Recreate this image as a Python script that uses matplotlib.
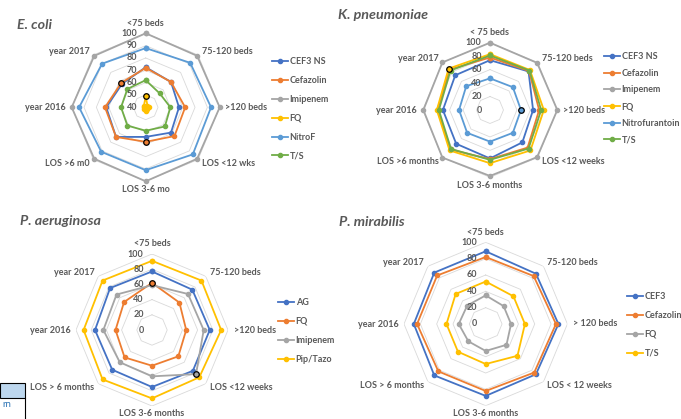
import matplotlib
matplotlib.use('Agg')
import matplotlib.pyplot as plt
import numpy as np
from matplotlib.patches import Rectangle

# Excel-ish palette and text colour
BLUE, ORANGE, GRAY, GOLD, LBLUE, GREEN = '#4472C4', '#ED7D31', '#A5A5A5', '#FFC000', '#5B9BD5', '#70AD47'
TXT = '#595959'
plt.rcParams['font.family'] = ['Lato', 'DejaVu Sans']

# ---- data ----
ecoli_cats = ['<75 beds', '75-120 beds', '>120 beds', 'LOS <12 wks', 'LOS 3-6 mo',
              'LOS >6 m0', 'year 2016', 'year 2017']
ecoli_names = ['CEF3 NS', 'Cefazolin', 'Imipenem', 'FQ', 'NitroF', 'T/S']
ecoli_cef3 = [72.5, 69, 67, 69, 64, 74, 72, 67]
ecoli_cefaz = [72, 69, 72, 73, 68, 74, 73, 68]
ecoli_imip = [100, 99, 100, 99, 100, 99, 100, 99]
ecoli_fq = [49, 42, 43, 42, 43, 42, 41, 42]
ecoli_nitrof = [88, 91, 93, 94, 91, 91, 94, 90]
ecoli_ts = [62, 56, 60, 62, 59, 61, 60, 61]

kpn_cats = ['< 75 beds', '75-120 beds', '>120 beds', 'LOS <12 weeks', 'LOS 3-6 months',
            'LOS >6 months', 'year 2016', 'year 2017']
kpn_names = ['CEF3 NS', 'Cefazolin', 'Imipenem', 'FQ', 'Nitrofurantoin', 'T/S']
kpn_cef3 = [74, 81, 64, 68, 72, 71, 70, 73]
kpn_cefaz = [78, 82, 73, 79, 73, 83, 78, 85]
kpn_imip = [100, 99, 100, 99, 98, 100, 99, 100]
kpn_fq = [83, 84, 80, 85, 79, 85, 79, 87]
kpn_nitro = [47, 48, 46, 48, 47, 48, 46, 50]
kpn_ts = [81, 83, 76, 81, 74, 82, 76, 83]

pae_cats = ['<75 beds', '75-120 beds', '>120 beds', 'LOS <12 weeks', 'LOS 3-6 months',
            'LOS > 6 months', 'year 2016', 'year 2017']
pae_names = ['AG', 'FQ', 'Imipenem', 'Pip/Tazo']
pae_ag = [77, 75, 76, 76, 75, 74, 75, 78]
pae_fq = [62, 51, 45, 49, 47, 51, 48, 52]
pae_imip = [59, 67, 68, 82, 61, 60, 64, 66]
pae_pip = [91, 92, 91, 88, 90, 92, 90, 92]

pmi_cats = ['<75 beds', '75-120 beds', '> 120 beds', 'LOS < 12 weeks', 'LOS 3-6 months',
            'LOS > 6 months', 'year 2016', 'year 2017']
pmi_names = ['CEF3', 'Cefazolin', 'FQ', 'T/S']
pmi_cef3 = [89, 87, 89, 87, 88, 89, 88, 89]
pmi_cefaz = [82, 83, 86, 84, 82, 82, 84, 84]
pmi_fq = [35, 31, 31, 36, 33, 30, 33, 32]
pmi_ts = [52, 48, 48, 55, 49, 48, 48, 52]

W, H = 681, 419
fig = plt.figure(figsize=(W / 100, H / 100), dpi=100)


def radar(cx, cy, R, cats, series, names, colors, rticks, highlight, title, title_xy, leg_xy, lsp):
    ax = fig.add_axes([(cx - R) / W, (H - cy - R) / H, 2 * R / W, 2 * R / H], projection='polar')
    ax.set_theta_zero_location('N')
    ax.set_theta_direction(-1)
    ax.set_ylim(rticks[0], rticks[-1])
    ax.grid(False)
    ax.spines['polar'].set_visible(False)
    ax.set_xticks([])
    ax.set_yticks([])
    ax.patch.set_alpha(0)
    n = len(cats)
    ang = np.arange(n) * 2 * np.pi / n
    angc = np.append(ang, ang[0])
    # octagon gridlines
    for r in rticks[1:]:
        ax.plot(angc, [r] * (n + 1), color='#D9D9D9', lw=0.6, zorder=0)
    for r in rticks:
        ax.annotate(str(r), xy=(0, r), xytext=(-6, 0), textcoords='offset points',
                    ha='right', va='center', fontsize=6.5, fontweight='bold', color=TXT)
    # category labels
    for a, lab in zip(ang, cats):
        s, c = np.sin(a), np.cos(a)
        ha = 'left' if s > 0.1 else ('right' if s < -0.1 else 'center')
        va = 'bottom' if c > 0.9 else ('top' if c < -0.9 else 'center')
        off = 2.5 if c < -0.9 else 4
        ax.annotate(lab, xy=(a, rticks[-1]), xytext=(off * s, off * c), textcoords='offset points',
                    ha=ha, va=va, fontsize=6.5, fontweight='bold', color=TXT, annotation_clip=False)
    for vals, name, col in zip(series, names, colors):
        v = np.append(vals, vals[0])
        ax.plot(angc, v, color=col, lw=1.3, marker='o', markersize=3, label=name, clip_on=False)
    # points with a black outline, as in the original
    for si, ci in highlight:
        ax.plot(ang[ci], series[si][ci], 'o', color=colors[si], markersize=4,
                markeredgecolor='black', markeredgewidth=0.9, clip_on=False)
    fig.text(title_xy[0] / W, 1 - title_xy[1] / H, title, fontsize=10.3, fontweight='bold',
             fontstyle='italic', color=TXT, va='center', ha='left')
    ax.legend(loc='upper left', bbox_to_anchor=(leg_xy[0] / W, 1 - leg_xy[1] / H),
              bbox_transform=fig.transFigure, frameon=False, borderpad=0,
              borderaxespad=0, handlelength=1.8, handletextpad=0.15, labelspacing=lsp,
              numpoints=1, labelcolor=TXT, prop={'weight': 'bold', 'size': 6.5})
    return ax


radar(145.7, 107.3, 74, ecoli_cats,
      [ecoli_cef3, ecoli_cefaz, ecoli_imip, ecoli_fq, ecoli_nitrof, ecoli_ts],
      ecoli_names, [BLUE, ORANGE, GRAY, GOLD, LBLUE, GREEN],
      [40, 50, 60, 70, 80, 90, 100], [(1, 7), (1, 4), (3, 0)],
      'E. coli', (17, 25), (272, 57), 1.1)

radar(490, 110, 67.3, kpn_cats,
      [kpn_cef3, kpn_cefaz, kpn_imip, kpn_fq, kpn_nitro, kpn_ts],
      kpn_names, [BLUE, ORANGE, GRAY, GOLD, LBLUE, GREEN],
      [0, 20, 40, 60, 80, 100], [(3, 7), (4, 2)],
      'K. pneumoniae', (338, 15), (604, 52), 0.85)

radar(152, 330, 76, pae_cats,
      [pae_ag, pae_fq, pae_imip, pae_pip],
      pae_names, [BLUE, ORANGE, GRAY, GOLD],
      [0, 20, 40, 60, 80, 100], [(1, 0), (2, 3)],
      'P. aeruginosa', (20, 221), (278, 298), 1.1)

radar(485.7, 324, 81.7, pmi_cats,
      [pmi_cef3, pmi_cefaz, pmi_fq, pmi_ts],
      pmi_names, [BLUE, ORANGE, GRAY, GOLD],
      [0, 20, 40, 60, 80, 100], [],
      'P. mirabilis', (339, 222), (627, 292), 1.1)

# stray spreadsheet cell in the bottom-left corner
fig.patches.append(Rectangle((0, (H - 398) / H), 25 / W, 15 / H, transform=fig.transFigure,
                             facecolor='#BDD7EE', edgecolor='black', lw=0.8))
fig.add_artist(plt.Line2D([25 / W, 25 / W], [0, (H - 398) / H], transform=fig.transFigure,
                          color='black', lw=0.8))
fig.text(2 / W, 1 - 404 / H, 'rn', fontsize=7, color='#2E75B6', va='center')

fig.savefig('out.png', dpi=100)
